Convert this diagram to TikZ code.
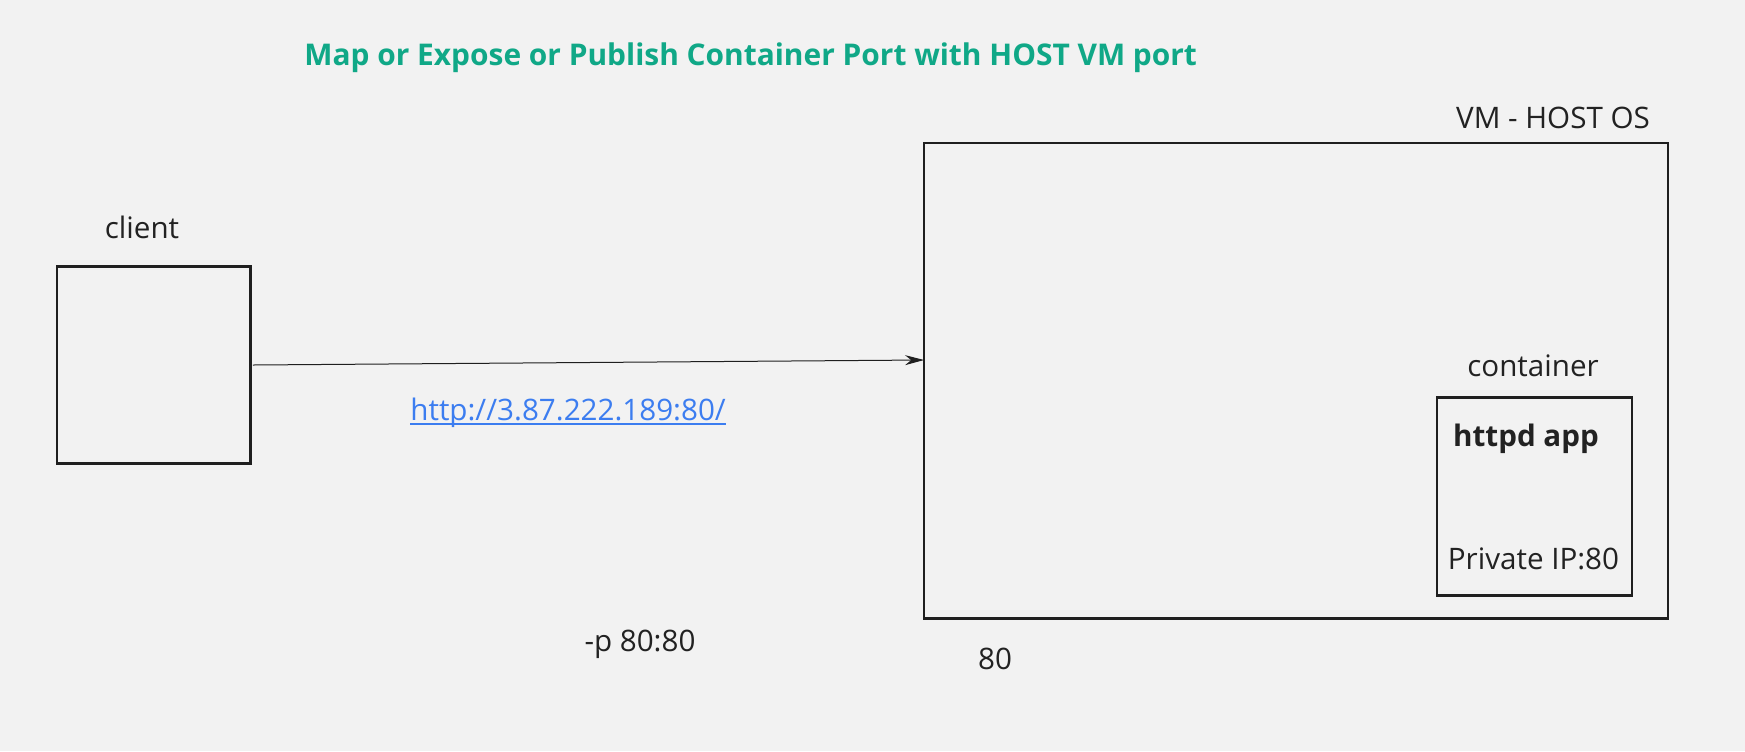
\documentclass[tikz,border=0pt]{standalone}
\usepackage{fontspec}
\setmainfont{Open Sans}
\usetikzlibrary{arrows.meta,calc}
\definecolor{bgc}{HTML}{F2F2F2}
\definecolor{titlec}{HTML}{10A887}
\definecolor{linkc}{HTML}{3C7DF0}
\definecolor{inkc}{HTML}{1F1F1F}
\definecolor{txtc}{HTML}{222222}
\tikzset{
  boxstyle/.style={draw=inkc, line width=1.2pt, inner sep=0pt, outer sep=0pt},
  lbl/.style={text=txtc, inner sep=0pt, anchor=base, font=\fontsize{14.8}{18}\selectfont},
  conn/.style={draw=inkc, line width=0.5pt, -{Stealth[length=9.5pt,width=5pt]}},
}
\begin{document}
\begin{tikzpicture}[x=0.5pt,y=-0.5pt]
\fill[bgc] (0,0) rectangle (1745,751);
\useasboundingbox (0,0) rectangle (1745,751);
% title
\node[lbl, anchor=base west, text=titlec, font=\fontsize{14.95}{18}\bfseries\selectfont] (title) at (304,65.7) {Map or Expose or Publish Container Port with HOST VM port};
% client
\node[boxstyle, minimum width=96.8pt, minimum height=98.65pt] (client) at (153.6,365) {};
\node[lbl] (clientlbl) at (142,238) {client};
% VM
\node[boxstyle, minimum width=371.85pt, minimum height=237.8pt] (vm) at (1295.9,380.5) {};
\node[lbl] (vmlbl) at (1553,128) {VM - HOST OS};
% container
\node[boxstyle, minimum width=97.5pt, minimum height=99pt] (cont) at (1534.2,496.3) {};
\node[lbl] (contlbl) at (1533,376) {container};
\node[lbl, font=\fontsize{14.8}{18}\bfseries\selectfont] (app) at (1526,446.7) {httpd app};
\node[lbl] (priv) at (1533.5,569.3) {Private IP:80};
% connector
\draw[conn] ($(client.east)+(2.5,0)$) -- ($(vm.west)+(0,-20.5)$);
\node[lbl, anchor=base west, text=linkc] (url) at (410,420) {http://3.87.222.189:80/};
\draw[linkc, line width=0.7pt] ($(url.base west)+(0,4)$) -- ($(url.base east)+(0,4)$);
\node[lbl] (pmap) at (640,651) {-p 80:80};
\node[lbl] (port) at (995,669) {80};
\end{tikzpicture}
\end{document}
